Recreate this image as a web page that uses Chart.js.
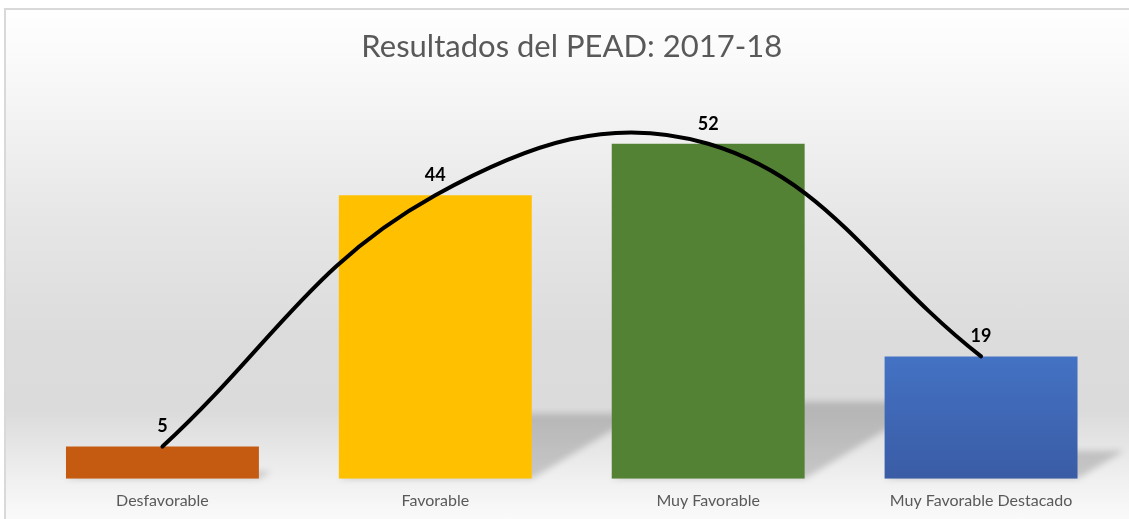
<!DOCTYPE html>
<html lang="es">
<head>
<meta charset="utf-8">
<title>Resultados del PEAD: 2017-18</title>
<script src="https://cdn.jsdelivr.net/npm/chart.js@4.4.1/dist/chart.umd.min.js"></script>
<style>
  html, body { margin: 0; padding: 0; background: #fff; overflow: hidden; }
  .chart-box {
    position: absolute;
    left: 4px;
    top: 8px;
    width: 1125px;
    height: 514px;
    border-top: 2px solid #d9d9d9;
    border-left: 2px solid #d9d9d9;
    background: linear-gradient(to bottom, #fefefe 0%, #fafafa 10%, #e6e6e6 41%, #dcdcdc 63%, #dbdbdb 78%, #f1f1f1 92%, #fbfbfb 100%);
  }
  #resultsChart { display: block; }
</style>
</head>
<body>
<div class="chart-box"><canvas id="resultsChart" width="1123" height="512"></canvas></div>
<script>
const categorias = ['Desfavorable', 'Favorable', 'Muy Favorable', 'Muy Favorable Destacado'];
const resultados = [5, 44, 52, 19];
const barColors = ['#c55a11', '#ffc000', '#548235', '#4472c4'];

// shadows behind the bars + value labels on top
const barDecor = {
  id: 'barDecor',
  beforeDatasetsDraw(chart) {
    const { ctx } = chart;
    const meta = chart.getDatasetMeta(0);
    ctx.save();
    ctx.fillStyle = 'rgba(0, 0, 0, 0.17)';
    ctx.filter = 'blur(3px)';
    meta.data.forEach((bar) => {
      const left = bar.x - bar.width / 2;
      const right = bar.x + bar.width / 2;
      const h = bar.base - bar.y;
      const dx = h * 0.38;
      const dy = h * 0.23;
      ctx.beginPath();
      ctx.moveTo(left, bar.base);
      ctx.lineTo(right, bar.base);
      ctx.lineTo(right + dx, bar.base - dy);
      ctx.lineTo(left + dx, bar.base - dy);
      ctx.closePath();
      ctx.fill();
    });
    ctx.restore();
  },
  afterDatasetsDraw(chart) {
    const { ctx } = chart;
    const meta = chart.getDatasetMeta(0);
    ctx.save();
    ctx.font = 'bold 18px Lato';
    ctx.fillStyle = '#000';
    ctx.textAlign = 'center';
    ctx.textBaseline = 'middle';
    meta.data.forEach((bar, i) => {
      ctx.fillText(String(resultados[i]), bar.x, bar.y - 20);
    });
    ctx.restore();
  },
};

const ctx = document.getElementById('resultsChart').getContext('2d');
const chart = new Chart(ctx, {
  type: 'bar',
  data: {
    labels: categorias,
    datasets: [{
      type: 'bar',
      data: resultados,
      order: 1,
      backgroundColor: (c) => {
        if (c.dataIndex !== 3 || !c.chart.chartArea) return barColors[c.dataIndex];
        const { y } = c.chart.scales;
        const g = c.chart.ctx.createLinearGradient(0, y.getPixelForValue(resultados[3]), 0, y.getPixelForValue(0));
        g.addColorStop(0, '#4472c4');
        g.addColorStop(1, '#3a5ca5');
        return g;
      },
      borderWidth: 0,
      categoryPercentage: 0.707,
      barPercentage: 1,
    }, {
      type: 'line',
      data: resultados,
      order: 0,
      borderColor: '#000',
      borderWidth: 4,
      borderCapStyle: 'round',
      pointRadius: 0,
      tension: 0.4,
      fill: false,
    }],
  },
  options: {
    responsive: false,
    animation: false,
    layout: {
      padding: { left: 20, right: 11.5, top: 0, bottom: 0 },
    },
    plugins: {
      legend: { display: false },
      tooltip: { enabled: false },
      title: {
        display: true,
        text: 'Resultados del PEAD: 2017-18',
        color: '#595959',
        font: { family: 'Lato', size: 31, weight: 400 },
        padding: { top: 18, bottom: 27 },
      },
    },
    scales: {
      x: {
        grid: { display: false, drawTicks: false },
        border: { display: false },
        ticks: {
          color: '#595959',
          font: { family: 'Lato', size: 16 },
          padding: 12,
        },
      },
      y: {
        display: false,
        min: 0,
        max: 60,
      },
    },
  },
  plugins: [barDecor],
});
</script>
</body>
</html>
